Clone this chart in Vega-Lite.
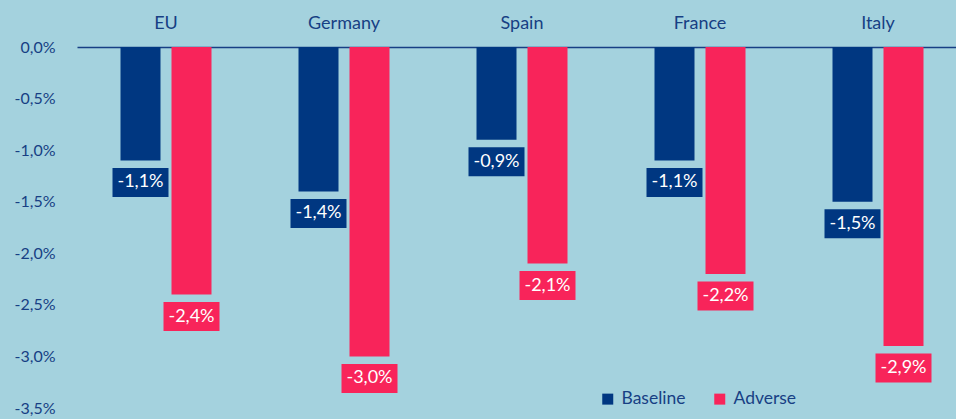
{
  "$schema": "https://vega.github.io/schema/vega-lite/v6.json",
  "width": 879,
  "height": 361,
  "autosize": {"type": "none"},
  "padding": {"left": 77, "top": 47, "right": 0, "bottom": 11},
  "background": "#a4d2de",
  "config": {
    "view": {"stroke": null},
    "font": "Lato",
    "locale": {"number": {"decimal": ",", "thousands": ".", "grouping": [3], "currency": ["", " €"], "minus": "-"}}
  },
  "data": {
    "values": [
      {"country": "EU", "scenario": "Baseline", "value": -0.011},
      {"country": "EU", "scenario": "Adverse", "value": -0.024},
      {"country": "Germany", "scenario": "Baseline", "value": -0.014},
      {"country": "Germany", "scenario": "Adverse", "value": -0.030},
      {"country": "Spain", "scenario": "Baseline", "value": -0.009},
      {"country": "Spain", "scenario": "Adverse", "value": -0.021},
      {"country": "France", "scenario": "Baseline", "value": -0.011},
      {"country": "France", "scenario": "Adverse", "value": -0.022},
      {"country": "Italy", "scenario": "Baseline", "value": -0.015},
      {"country": "Italy", "scenario": "Adverse", "value": -0.029}
    ]
  },
  "encoding": {
    "x": {
      "field": "country", "type": "nominal",
      "sort": ["EU", "Germany", "Spain", "France", "Italy"],
      "scale": {"range": [0, 890], "paddingInner": 0, "paddingOuter": 0},
      "axis": {
        "orient": "top", "title": null, "ticks": false, "labelAngle": 0,
        "labelPadding": 15, "labelFontSize": 18, "labelColor": "#173f84",
        "domainColor": "#173f84", "domainWidth": 1.5, "labelFont": "Lato"
      }
    },
    "xOffset": {
      "field": "scenario", "type": "nominal",
      "sort": ["Baseline", "Adverse"],
      "scale": {"paddingInner": 0.2157, "paddingOuter": 0.853}
    },
    "color": {
      "field": "scenario", "type": "nominal",
      "sort": ["Baseline", "Adverse"],
      "scale": {"domain": ["Baseline", "Adverse"], "range": ["#003781", "#f8245a"]},
      "legend": {
        "title": null, "orient": "none", "direction": "horizontal",
        "legendX": 522, "legendY": 343,
        "symbolType": "square", "symbolSize": 121, "symbolStrokeWidth": 0,
        "labelFontSize": 17.5, "labelColor": "#173f84", "labelOffset": 5,
        "columnPadding": 25, "labelFont": "Lato"
      }
    }
  },
  "layer": [
    {
      "mark": {"type": "bar"},
      "encoding": {
        "y": {
          "field": "value", "type": "quantitative",
          "scale": {"domain": [-0.035, 0], "nice": false},
          "axis": {
            "title": null, "format": ".1%", "values": [0, -0.005, -0.01, -0.015, -0.02, -0.025, -0.03, -0.035],
            "domain": false, "ticks": false, "grid": false,
            "labelPadding": 22, "labelFontSize": 16, "labelColor": "#173f84", "labelFont": "Lato"
          }
        },
        "y2": {"datum": 0}
      }
    },
    {
      "mark": {"type": "bar", "width": 56, "yOffset": 7.5, "y2Offset": 36.5},
      "encoding": {
        "y": {"field": "value", "type": "quantitative"},
        "y2": {"field": "value"}
      }
    },
    {
      "mark": {"type": "text", "color": "white", "fontSize": 18, "dy": 22, "baseline": "middle", "align": "center", "font": "Lato"},
      "encoding": {
        "y": {"field": "value", "type": "quantitative"},
        "text": {"field": "value", "type": "quantitative", "format": ".1%"},
        "color": {"value": "white"}
      }
    }
  ]
}
